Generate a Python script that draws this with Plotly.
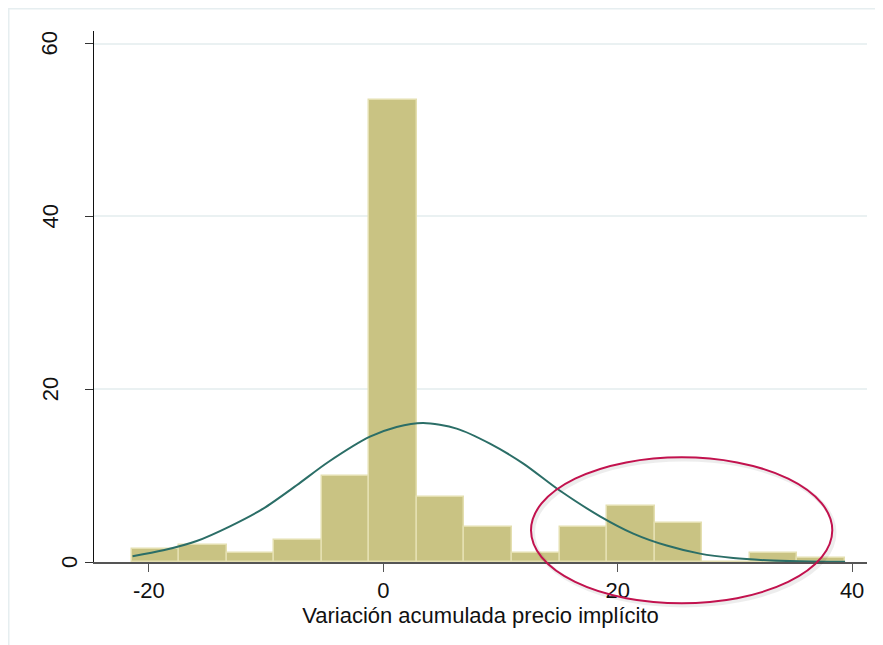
import plotly.graph_objects as go

# ---- data ----
bin_start = -21.47          # left edge of the first bin
bin_width = 4.057           # width of each bin
percent = [1.5, 2.0, 1.0, 2.5, 10.0, 53.5, 7.5, 4.0, 1.0, 4.0, 6.5, 4.5, 0.0, 1.0, 0.5]

# normal-density overlay, points
curve_x = [-21.39, -18.77, -15.92, -13.08, -10.24, -7.39, -4.69, -1.14, 1.14, 3.41,
           6.26, 9.1, 11.95, 15.02, 18.49, 21.33, 24.18, 27.02, 29.86, 32.71, 35.55, 39.4]
curve_y = [0.66, 1.35, 2.43, 4.13, 6.18, 8.88, 11.57, 14.5, 15.63, 16.09,
           15.44, 13.7, 11.39, 8.3, 5.29, 3.29, 1.9, 0.97, 0.46, 0.2, 0.08, 0.02]

x_ticks = [-20, 0, 20, 40]
y_ticks = [0, 20, 40, 60]
x_title = "Variación acumulada precio implícito"

centers = [bin_start + (i + 0.5) * bin_width for i in range(len(percent))]

FONT = "Liberation Sans, Arial, sans-serif"

fig = go.Figure()
fig.add_trace(go.Bar(
    x=centers, y=percent, width=bin_width,
    marker=dict(color="#C9C383", line=dict(color="#E4DFB0", width=1.5)),
    showlegend=False, hoverinfo="skip",
))
fig.add_trace(go.Scatter(
    x=curve_x, y=curve_y, mode="lines",
    line=dict(color="#2B6E67", width=2, shape="spline", smoothing=0.8),
    showlegend=False, hoverinfo="skip",
))

# page has an 8px body margin: the figure starts at (8, 8) in the window
OFF = 8
W, H = 883 - OFF, 645 - OFF
L, R, T, B = 94 - OFF, 16, 31 - OFF, 83
pw, ph = W - L - R, H - T - B

def px_x(p):           # window pixel -> x domain fraction
    return (p - OFF - L) / pw

def px_y(p):           # window pixel -> y domain fraction
    return (T + ph - (p - OFF)) / ph

shapes = [
    # faint outer graph-region border
    dict(type="rect", xref="x domain", yref="y domain",
         x0=px_x(8.75), x1=px_x(905), y0=px_y(660), y1=px_y(8.75),
         line=dict(color="#E6EEF0", width=1.5), fillcolor="rgba(0,0,0,0)", layer="below"),
    # shadow of the ellipse
    dict(type="circle", xref="x domain", yref="y domain",
         x0=px_x(533), x1=px_x(834.5), y0=px_y(605.5), y1=px_y(459.5),
         line=dict(color="rgba(0,0,0,0.07)", width=4)),
    # red ellipse
    dict(type="circle", xref="x domain", yref="y domain",
         x0=px_x(531), x1=px_x(832.3), y0=px_y(603.3), y1=px_y(457.3),
         line=dict(color="#C2124E", width=2)),
]

# rotated y tick labels (the "0" sits further right, as in the original)
annotations = []
for v in y_ticks:
    cx = 69 if v == 0 else 50
    annotations.append(dict(
        x=px_x(cx), xref="x domain", y=v, yref="y",
        text=str(v), showarrow=False, textangle=-90,
        xanchor="center", yanchor="middle",
        font=dict(size=22, family=FONT, color="#111111"),
    ))

fig.update_layout(
    width=W, height=H,
    margin=dict(l=L, r=R, t=T, b=B, autoexpand=False),
    paper_bgcolor="white", plot_bgcolor="white",
    font=dict(family=FONT, size=22, color="#111111"),
    bargap=0,
    shapes=shapes,
    annotations=annotations,
    xaxis=dict(
        range=[-24.68, 41.27], tickvals=x_ticks, ticktext=[str(v) for v in x_ticks],
        automargin=False,
        showgrid=False, zeroline=False,
        showline=True, linecolor="#555555", linewidth=1.5,
        ticks="outside", ticklen=8, tickwidth=1.2, tickcolor="#555555",
        tickfont=dict(size=22, family=FONT, color="#111111"),
        title=dict(text=x_title, font=dict(size=22, family=FONT, color="#111111"), standoff=0),
    ),
    yaxis=dict(
        range=[0, 61.46], tickvals=y_ticks, showticklabels=False,
        automargin=False,
        showgrid=True, gridcolor="#EAF1F2", gridwidth=1.5,
        zeroline=False,
        showline=True, linecolor="#111111", linewidth=1.2,
        ticks="outside", ticklen=8, tickwidth=1.2, tickcolor="#333333",
    ),
)

fig.write_html("out.html")
